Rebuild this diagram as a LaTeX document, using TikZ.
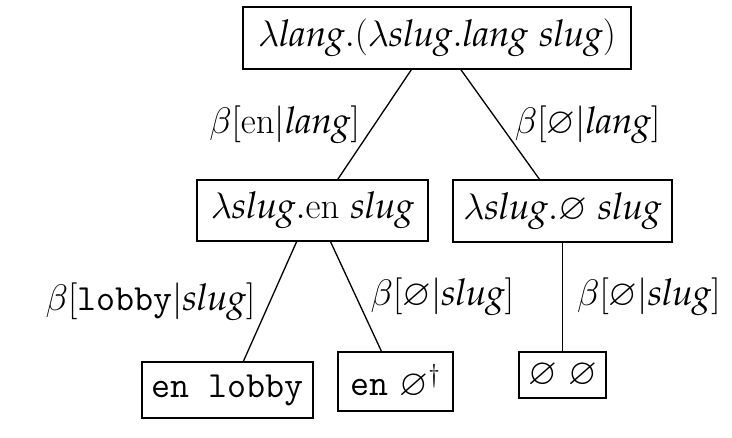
\documentclass[tikz,border=0pt]{standalone}
\usepackage{fix-cm}
\usepackage[T1,TU]{fontenc}
\usepackage{amsmath}
\usepackage{amssymb}
\usetikzlibrary{positioning}
\newcommand{\pv}[1]{\text{\usefont{T1}{ppl}{m}{it}#1}}
\begin{document}
\begin{tikzpicture}[x=0.02cm,y=-0.02cm,line width=0.75pt,font=\fontsize{21}{24}\selectfont]
 \tikzstyle{term node}=[rectangle,draw,inner sep=1]
 \tikzstyle{step label}=[inner sep=8pt]
 \useasboundingbox (0,0) rectangle (732,438);

       \node[term node,minimum width=7.76cm,minimum height=1.24cm] (R) at (437,38) {$\lambda\pv{lang}.(\lambda\pv{slug}.\pv{lang}\ \pv{slug})$};
       \node[term node,minimum width=4.62cm,minimum height=1.22cm] (L) at (312.5,210.5) {$\lambda\pv{slug}.\mathrm{en}\ \pv{slug}$};
       \node[term node,minimum width=4.38cm,minimum height=1.24cm] (Rt) at (562.5,211) {$\lambda\pv{slug}.\varnothing\ \pv{slug}$};

       \node[term node,minimum width=3.42cm,minimum height=1.12cm] (LL) at (227.5,390) {\texttt{en lobby}};
       \node[term node,minimum width=2.30cm,minimum height=1.18cm] (LR) at (395.5,381.5) {\texttt{en} $\varnothing^\dagger$};
       \node[term node,minimum width=1.74cm,minimum height=0.92cm] (RR) at (562.5,375) {$\varnothing\ \varnothing$};

     \path (R.-129) edge node[step label,left] {$\beta[\mathrm{en}|\pv{lang}]$} (L.51);
     \path (R.-53) edge node[step label,right] {$\beta[\varnothing|\pv{lang}]$} (Rt.126);
     \path (L.-117) edge node[step label,left] {$\beta[\texttt{lobby}|\pv{slug}]$} (LL.61);
     \path (L.-60) edge node[step label,right] {$\beta[\varnothing|\pv{slug}]$} (LR.115);
     \path (Rt.south) edge node[step label,right] {$\beta[\varnothing|\pv{slug}]$} (RR.north);
 \end{tikzpicture}
\end{document}
